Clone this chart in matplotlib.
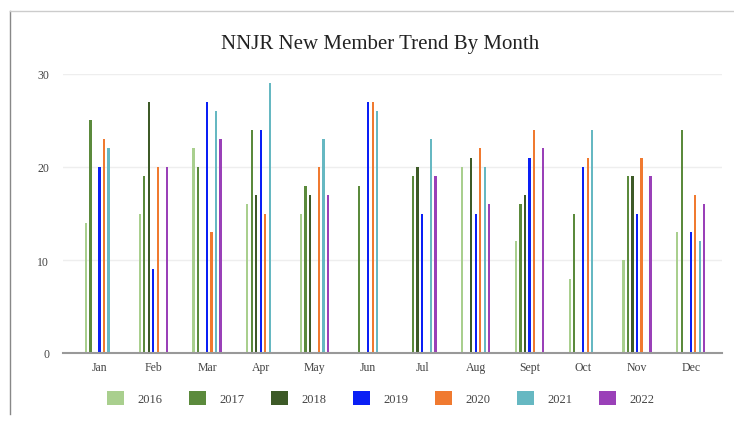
import matplotlib
matplotlib.use("Agg")
import matplotlib.pyplot as plt
import numpy as np
from matplotlib.lines import Line2D
from matplotlib.patches import Patch

months = ["Jan", "Feb", "Mar", "Apr", "May", "Jun", "Jul", "Aug", "Sept", "Oct", "Nov", "Dec"]
years = ["2016", "2017", "2018", "2019", "2020", "2021", "2022"]
v2016 = [14, 15, 22, 16, 15, 0, 0, 20, 12, 8, 10, 13]
v2017 = [25, 19, 20, 24, 18, 18, 19, 0, 16, 15, 19, 24]
v2018 = [0, 27, 0, 17, 17, 0, 20, 21, 17, 0, 19, 0]
v2019 = [20, 9, 27, 24, 0, 27, 15, 15, 21, 20, 15, 13]
v2020 = [23, 20, 13, 15, 20, 27, 0, 22, 24, 21, 21, 17]
v2021 = [22, 0, 26, 29, 23, 26, 23, 20, 0, 24, 0, 12]
v2022 = [0, 20, 23, 0, 17, 0, 19, 16, 22, 0, 19, 16]
series = [v2016, v2017, v2018, v2019, v2020, v2021, v2022]
colors = ["#a9cf8e", "#5b8a3c", "#3d5a27", "#0a1ff5", "#f07a30", "#66b8c2", "#9a40b8"]

W, H = 734, 427
fig = plt.figure(figsize=(W / 100, H / 100), dpi=100)
ax = fig.add_axes([63 / W, 1 - 354 / H, (722 - 63) / W, (354 - 75) / H])

serif = ["Liberation Serif", "DejaVu Serif"]
x = np.arange(len(months))
step = 0.0837
bw = 0.04
for i, (vals, c) in enumerate(zip(series, colors)):
    ax.bar(x + (i - 3) * step, vals, width=bw, color=c, zorder=3, linewidth=0)

ax.set_xlim(-0.68, 11.58)
ax.set_ylim(0, 30)
ax.set_yticks([0, 10, 20, 30])
ax.set_yticklabels(["0", "10", "20", "30"], family=serif, fontsize=8.5, color="#444444")
ax.set_xticks(x)
ax.set_xticklabels(months, family=serif, fontsize=8.5, color="#444444")
ax.tick_params(length=0, pad=6)
ax.tick_params(axis="y", pad=10)
for s in ["top", "right", "left"]:
    ax.spines[s].set_visible(False)
ax.spines["bottom"].set_color("#999999")
ax.spines["bottom"].set_linewidth(1.5)
ax.spines["bottom"].set_zorder(4)
for g in [10, 20, 30]:
    ax.axhline(g, color="#eeeeee", linewidth=1, zorder=1)

fig.text(380 / W, 1 - 45 / H, "NNJR New Member Trend By Month", family=serif,
         fontsize=15, color="#222222", ha="center", va="center")

handles = [Patch(facecolor=c, edgecolor="none") for c in colors]
fig.legend(handles, years, loc="center", bbox_to_anchor=(381 / W, 1 - 399 / H), ncol=7,
           frameon=False, prop={"family": serif, "size": 9}, handlelength=1.36,
           handleheight=1.36, handletextpad=1.1, columnspacing=2.1, labelcolor="#444444")

fig.add_artist(Line2D([10 / W, 10 / W], [1 - 12 / H, 1 - 415 / H], color="#888888", linewidth=1))
fig.add_artist(Line2D([10 / W, 1.0], [1 - 12 / H, 1 - 12 / H], color="#cccccc", linewidth=1))

fig.savefig("out.png", dpi=100)
